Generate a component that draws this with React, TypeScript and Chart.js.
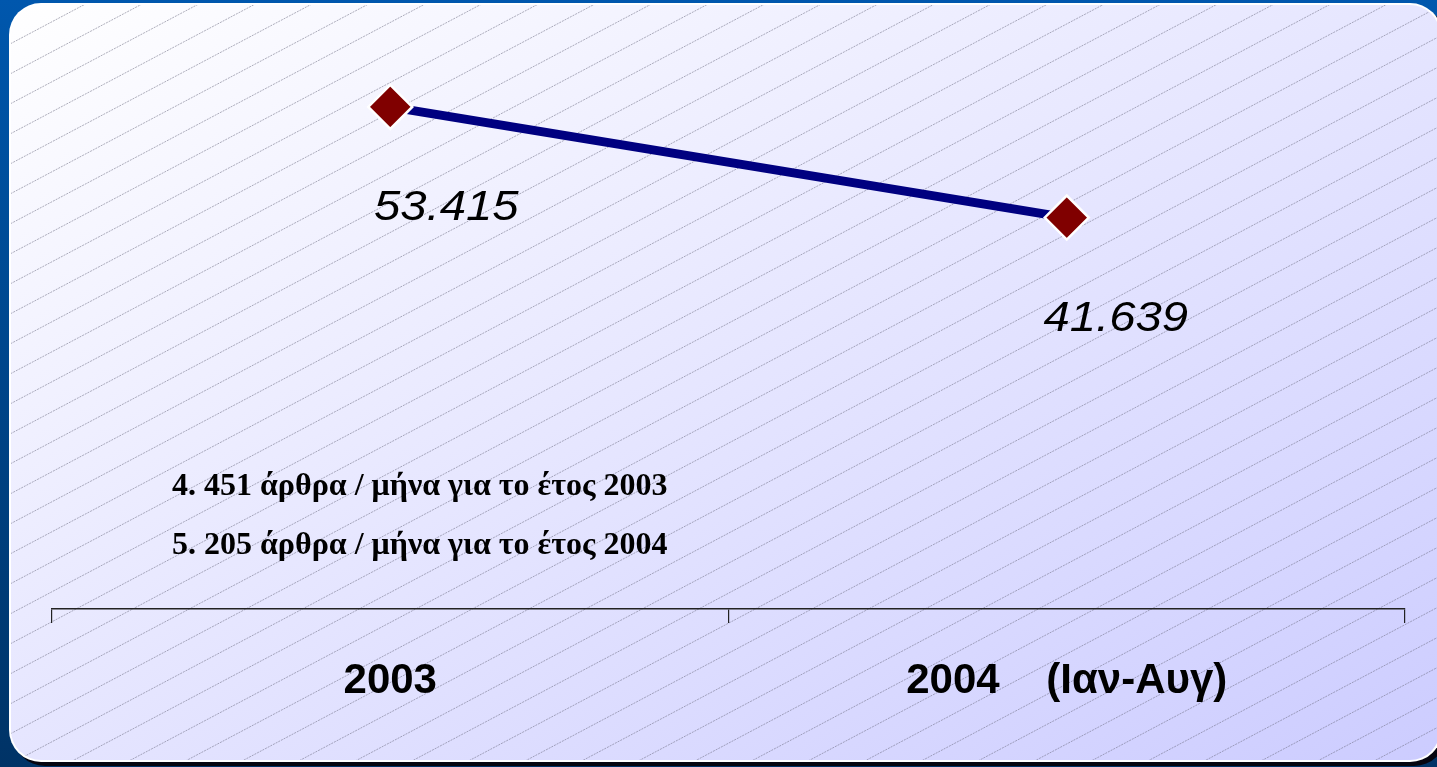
import React, { useEffect, useRef } from 'react';
import { Chart, registerables } from 'chart.js';

Chart.register(...registerables);

const categories = ['2003', '2004    (Ιαν-Αυγ)'];
const values = [53415, 41639];
const notes = ['4. 451 άρθρα / μήνα για το έτος 2003', '5. 205 άρθρα / μήνα για το έτος 2004'];
const yMin = 0;
const yMax = 60000;

const labelDx = [56, 49];
const labelDy = 113;

function fmt(v: number): string {
  return v.toString().replace(/\B(?=(\d{3})+(?!\d))/g, '.');
}

function rr(ctx: CanvasRenderingContext2D, x: number, y: number, w: number, h: number, r: number) {
  ctx.beginPath();
  ctx.moveTo(x + r, y);
  ctx.lineTo(x + w - r, y);
  ctx.arcTo(x + w, y, x + w, y + r, r);
  ctx.lineTo(x + w, y + h - r);
  ctx.arcTo(x + w, y + h, x + w - r, y + h, r);
  ctx.lineTo(x + r, y + h);
  ctx.arcTo(x, y + h, x, y + h - r, r);
  ctx.lineTo(x, y + r);
  ctx.arcTo(x, y, x + r, y, r);
  ctx.closePath();
}

const backgroundPlugin = {
  id: 'panelBackground',
  beforeDraw(chart: any) {
    const ctx: CanvasRenderingContext2D = chart.ctx;
    const W = chart.width;
    const H = chart.height;
    ctx.save();
    const bg = ctx.createLinearGradient(0, 0, 0, H);
    bg.addColorStop(0, '#0057ad');
    bg.addColorStop(1, '#003366');
    ctx.fillStyle = bg;
    ctx.fillRect(0, 0, W, H);

    const px = 9, py = 3, pw = 1433, ph = 759, r = 32;
    rr(ctx, px + 4, py + 4, pw, ph, r);
    ctx.fillStyle = '#05050f';
    ctx.fill();
    rr(ctx, px, py, pw, ph, r);
    ctx.fillStyle = '#ffffff';
    ctx.fill();
    rr(ctx, px + 2, py + 2, pw - 4, ph - 4, r - 2);
    const g = ctx.createLinearGradient(px, py, px + 609, py + 1183);
    g.addColorStop(0, '#ffffff');
    g.addColorStop(1, '#ccccff');
    ctx.fillStyle = g;
    ctx.fill();
    ctx.clip();

    const s = 0.53;
    const step = 30;
    const phase = 979.3 % step;
    ctx.strokeStyle = 'rgba(110,110,130,0.55)';
    ctx.lineWidth = 1;
    ctx.setLineDash([2, 1]);
    for (let c = phase - step * 40; c < H + s * W + step; c += step) {
      ctx.beginPath();
      ctx.moveTo(0, c);
      ctx.lineTo(W, c - s * W);
      ctx.stroke();
    }
    ctx.restore();
  },
};

const labelsPlugin = {
  id: 'valueLabels',
  afterDatasetsDraw(chart: any) {
    const ctx: CanvasRenderingContext2D = chart.ctx;
    const meta = chart.getDatasetMeta(0);
    meta.data.forEach((pt: any, i: number) => {
      ctx.save();
      ctx.translate(pt.x + labelDx[i], pt.y + labelDy);
      ctx.scale(1.1, 1);
      ctx.font = 'italic 43px "Liberation Sans", Arial, sans-serif';
      ctx.textAlign = 'center';
      ctx.textBaseline = 'alphabetic';
      ctx.fillStyle = '#000000';
      ctx.fillText(fmt(values[i]), 0, 0);
      ctx.restore();
    });
  },
  afterDraw(chart: any) {
    const ctx: CanvasRenderingContext2D = chart.ctx;
    ctx.save();
    ctx.font = 'bold 32px "Liberation Serif", "Times New Roman", serif';
    ctx.textAlign = 'left';
    ctx.textBaseline = 'alphabetic';
    ctx.fillStyle = '#000000';
    const baselines = [495, 554];
    notes.forEach((t, i) => ctx.fillText(t, 172, baselines[i]));
    ctx.restore();
  },
};

export default function App() {
  const ref = useRef<HTMLCanvasElement | null>(null);

  useEffect(() => {
    if (!ref.current) return;
    const chart = new Chart(ref.current, {
      type: 'line',
      data: {
        labels: categories,
        datasets: [
          {
            data: values,
            borderColor: '#000080',
            borderWidth: 9,
            tension: 0,
            pointStyle: 'rectRot',
            pointRadius: 22,
            pointHoverRadius: 22,
            pointBackgroundColor: '#800000',
            pointBorderColor: '#ffffff',
            pointBorderWidth: 2.5,
            clip: false as any,
          },
        ],
      },
      options: {
        animation: false,
        responsive: true,
        maintainAspectRatio: false,
        events: [],
        layout: { padding: { left: 52, right: 32, top: 45, bottom: 0 } },
        plugins: { legend: { display: false }, tooltip: { enabled: false } },
        scales: {
          x: {
            offset: true,
            grid: { offset: true, drawOnChartArea: false, drawTicks: true, tickLength: 14, color: '#222222', lineWidth: 1.2 },
            border: { display: true, color: '#222222', width: 1.5 },
            ticks: {
              padding: 33,
              color: '#000000',
              maxRotation: 0,
              autoSkip: false,
              font: { family: '"Liberation Sans", Arial, sans-serif', size: 42, weight: 'bold' },
            },
            afterFit: (scale: any) => {
              scale.height = 158;
            },
          },
          y: { display: false, min: yMin, max: yMax },
        },
      },
      plugins: [backgroundPlugin, labelsPlugin],
    });
    return () => chart.destroy();
  }, []);

  return (
    <div style={{ position: 'fixed', left: 0, top: 0, width: 1437, height: 767 }}>
      <canvas ref={ref} />
    </div>
  );
}
